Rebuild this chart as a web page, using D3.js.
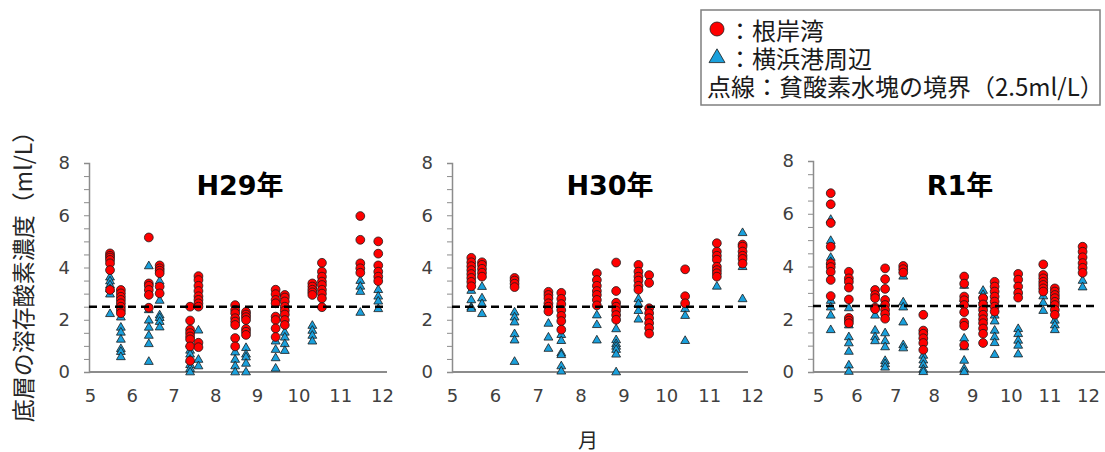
<!DOCTYPE html>
<html>
<head>
<meta charset="utf-8">
<script src="https://cdn.jsdelivr.net/npm/d3@7"></script>
<style>
  body { margin: 0; background: #fff; }
  svg text { font-family: "DejaVu Sans", "Noto Sans CJK JP", sans-serif; }
</style>
</head>
<body>
<div id="chart"></div>
<script>
// DATA (months are fractional positions on the 5..12 axis)
const yTicks = [0, 2, 4, 6, 8];
const xTicks = [5, 6, 7, 8, 9, 10, 11, 12];
const threshold = 2.5;

const h29Months = [5.48, 5.74, 6.41, 6.67, 7.40, 7.60, 8.48, 8.74, 9.45, 9.67, 10.33, 10.56, 11.48, 11.91];
const h29Red = [
  [4.54, 4.45, 4.38, 4.29, 4.16, 3.9, 3.14],
  [3.14, 3.01, 2.88, 2.76, 2.63, 2.5, 2.37, 2.25],
  [5.15, 3.39, 3.3, 3.14, 2.95, 2.46],
  [4.08, 3.97, 3.88, 3.78, 3.27, 3.01],
  [2.5, 1.97, 1.62, 1.49, 1.36, 1.25, 0.98, 0.43],
  [3.67, 3.52, 3.3, 3.1, 2.9, 2.76, 2.63, 2.5, 1.12, 0.95],
  [2.56, 2.38, 2.25, 2.06, 1.93, 1.8, 1.3, 0.98],
  [2.3, 2.2, 2.1, 1.99, 1.65, 1.54, 1.42],
  [3.15, 2.98, 2.76, 2.63, 2.12, 1.99, 1.67, 1.34],
  [2.95, 2.85, 2.7, 2.5, 2.35, 2.2, 1.99, 1.8],
  [3.39, 3.27, 3.15, 3.05, 2.95],
  [4.18, 3.84, 3.65, 3.46, 3.33, 3.15, 3.0, 2.82, 2.48],
  [5.97, 5.06, 4.16, 3.97, 3.8],
  [5.0, 4.53, 4.08, 3.84, 3.65, 3.48]
];
const h29Blue = [
  [3.65, 3.5, 3.35, 3.2, 3.0, 2.25],
  [2.12, 1.73, 1.54, 1.27, 0.91, 0.8, 0.6],
  [4.08, 2.4, 2.0, 1.73, 1.42, 1.1, 0.42],
  [3.5, 2.76, 2.2, 2.1, 1.95, 1.74],
  [1.1, 0.85, 0.7, 0.5, 0.3, 0.15, 0.02],
  [1.62, 0.5, 0.25],
  [0.78, 0.5, 0.25, 0.02],
  [0.95, 0.7, 0.59, 0.35, 0.02],
  [1.2, 0.88, 0.56, 0.16],
  [1.54, 1.35, 1.1, 0.84],
  [1.8, 1.61, 1.42, 1.2],
  [],
  [3.52, 3.3, 3.1, 2.3],
  [3.17, 2.92, 2.73, 2.44]
];

const h30Months = [5.45, 5.70, 6.46, 7.25, 7.55, 8.38, 8.83, 9.35, 9.60, 10.44, 11.18, 11.78];
const h30Red = [
  [4.37, 4.2, 4.05, 3.9, 3.75, 3.6, 3.45, 3.28],
  [4.2, 4.1, 3.95, 3.8, 3.65],
  [3.6, 3.5, 3.38, 3.25],
  [3.07, 2.95, 2.82, 2.63, 2.5, 2.32],
  [3.03, 2.8, 2.6, 2.37, 2.15, 1.95, 1.62],
  [3.78, 3.52, 3.3, 3.1, 2.95, 2.76, 2.55],
  [4.19, 3.1, 2.65, 2.5, 2.35, 2.18, 2.0],
  [4.1, 3.84, 3.65, 3.5, 3.3, 3.15],
  [3.71, 3.41, 2.44, 2.25, 2.06, 1.87, 1.68, 1.47],
  [3.93, 2.9, 2.63],
  [4.93, 4.61, 4.45, 4.3, 4.03, 3.9, 3.78, 3.65],
  [4.88, 4.8, 4.61, 4.45, 4.33, 4.15]
];
const h30Blue = [
  [3.14, 2.78, 2.5, 2.45],
  [3.29, 2.85, 2.63, 2.25],
  [2.31, 2.12, 1.93, 1.48, 1.24, 0.42],
  [1.88, 1.35, 0.92],
  [1.45, 1.22, 0.75, 0.68, 0.25, 0.05],
  [2.2, 1.83, 1.24],
  [1.67, 1.25, 1.1, 1.0, 0.88, 0.7, 0.02],
  [2.82, 2.63, 2.37, 2.04],
  [],
  [2.44, 2.18, 1.22],
  [3.3],
  [5.35, 4.05, 2.82]
];

const r1Months = [5.33, 5.80, 6.48, 6.74, 7.21, 7.73, 8.79, 9.28, 9.58, 10.19, 10.84, 11.14, 11.86];
const r1Red = [
  [6.78, 6.36, 5.65, 4.75, 4.12, 3.98, 3.8, 3.49, 2.88],
  [3.8, 3.55, 3.42, 3.2, 2.75, 2.05, 1.95, 1.85],
  [3.11, 2.92, 2.8, 2.44, 2.38],
  [3.93, 3.52, 3.15, 2.73, 2.54, 2.36, 2.2, 2.02],
  [4.02, 3.9, 3.77],
  [2.17, 1.57, 1.45, 1.28, 1.1, 0.84],
  [3.62, 3.35, 2.86, 2.72, 2.54, 2.27, 1.88, 1.75, 1.02],
  [2.8, 2.56, 2.35, 2.17, 2.0, 1.85, 1.65, 1.45, 1.1],
  [3.42, 3.24, 3.05, 2.86, 2.67, 2.48, 2.29],
  [3.72, 3.5, 3.24, 3.0, 2.82],
  [4.08, 3.68, 3.55, 3.42, 3.3, 3.17, 3.05],
  [3.17, 3.05, 2.92, 2.8, 2.66, 2.54, 2.36, 2.17],
  [4.75, 4.56, 4.35, 4.13, 3.95, 3.76]
];
const r1Blue = [
  [5.8, 5.0, 4.36, 4.2, 2.73, 2.48, 2.17, 1.62],
  [2.45, 1.8, 1.35, 1.12, 0.8, 0.28, 0.04],
  [2.17, 1.6, 1.35, 1.2],
  [1.5, 1.2, 0.97, 0.45, 0.33, 0.2],
  [3.65, 2.67, 2.48, 1.91, 1.05, 0.93],
  [0.65, 0.47, 0.3, 0.12, 0.03],
  [3.3, 2.8, 1.3, 0.97, 0.46, 0.15, 0.03],
  [3.11, 2.95, 2.75, 2.55],
  [2.17, 1.95, 1.6, 1.35, 1.13, 0.68],
  [1.66, 1.47, 1.22, 1.03, 0.7],
  [2.9, 2.65, 2.35],
  [1.98, 1.8, 1.62],
  [3.49, 3.24]
];

const titles = ["H29年", "H30年", "R1年"];
const legendLabels = ["：根岸湾", "：横浜港周辺", "点線：貧酸素水塊の境界（2.5ml/L）"];
const yLabel = "底層の溶存酸素濃度（ml/L）";
const xLabel = "月";

// LAYOUT
const W = 1105, H = 452;
const RED = "#ff0000", BLUE = "#1aa0dc", AXIS = "#8c8c8c", TICK_TXT = "#404040";

const panels = [
  { title: titles[0], months: h29Months, red: h29Red, blue: h29Blue,
    axisX: 89, xRange: [90, 382], yRange: [372, 163], axisEnd: 387, dashEnd: 387, titleX: 240 },
  { title: titles[1], months: h30Months, red: h30Red, blue: h30Blue,
    axisX: 452, xRange: [452, 752], yRange: [372, 163], axisEnd: 748, dashEnd: 746, titleX: 610 },
  { title: titles[2], months: r1Months, red: r1Red, blue: r1Blue,
    axisX: 813, xRange: [818, 1088], yRange: [372, 161], axisEnd: 1105, dashEnd: 1096, titleX: 960 }
];

const svg = d3.select("#chart").append("svg")
    .attr("width", W)
    .attr("height", H);

const tri = d3.symbol().type(d3.symbolTriangle).size(34);

panels.forEach(p => {
  const x = d3.scaleLinear().domain([5, 12]).range(p.xRange);
  const y = d3.scaleLinear().domain([0, 8]).range(p.yRange);
  const g = svg.append("g");

  // y axis with minor ticks every 0.5
  const yAxis = g.append("g")
      .attr("transform", `translate(${p.axisX},0)`)
      .call(d3.axisLeft(y)
          .tickValues(d3.range(0, 8.01, 0.5))
          .tickSize(5)
          .tickPadding(14)
          .tickFormat(d => yTicks.includes(d) ? d : ""));
  yAxis.select(".domain").attr("stroke", AXIS).attr("stroke-width", 1.5);
  yAxis.selectAll(".tick line").attr("stroke", AXIS).attr("stroke-width", 1);
  yAxis.selectAll("text")
      .attr("fill", TICK_TXT)
      .style("font-size", "18px");

  // x axis (labels only) and base line
  const xAxis = g.append("g")
      .attr("transform", `translate(0,${p.yRange[0]})`)
      .call(d3.axisBottom(x)
          .tickValues(xTicks)
          .tickSize(0)
          .tickPadding(17)
          .tickFormat(d3.format("d")));
  xAxis.select(".domain").remove();
  xAxis.selectAll("text")
      .attr("fill", TICK_TXT)
      .style("font-size", "18px");

  g.append("line")
      .attr("x1", p.axisX).attr("x2", p.axisEnd)
      .attr("y1", y(0)).attr("y2", y(0))
      .attr("stroke", AXIS).attr("stroke-width", 2);

  // title
  g.append("text")
      .attr("x", p.titleX)
      .attr("y", 195)
      .attr("text-anchor", "middle")
      .style("font-size", "27px")
      .style("font-weight", "bold")
      .text(p.title);

  // points: blue first, red on top
  const bluePts = [], redPts = [];
  p.months.forEach((m, i) => {
    p.blue[i].forEach(v => bluePts.push([m, v]));
    p.red[i].forEach(v => redPts.push([m, v]));
  });

  g.selectAll(".tri")
      .data(bluePts)
      .enter()
      .append("path")
      .attr("d", tri)
      .attr("transform", d => `translate(${x(d[0])},${y(d[1]) + 0.8})`)
      .attr("fill", BLUE)
      .attr("stroke", "#1a1a1a")
      .attr("stroke-width", 0.8);

  g.selectAll(".dot")
      .data(redPts)
      .enter()
      .append("circle")
      .attr("cx", d => x(d[0]))
      .attr("cy", d => y(d[1]))
      .attr("r", 4.4)
      .attr("fill", RED)
      .attr("stroke", "#1a1a1a")
      .attr("stroke-width", 0.8);

  // 2.5 ml/L threshold
  g.append("line")
      .attr("x1", p.axisX).attr("x2", p.dashEnd)
      .attr("y1", y(threshold)).attr("y2", y(threshold))
      .attr("stroke", "#000")
      .attr("stroke-width", 2.6)
      .attr("stroke-dasharray", "8,5");
});

// axis titles
svg.append("text")
    .attr("transform", "translate(22,271) rotate(-90)")
    .attr("text-anchor", "middle")
    .attr("dominant-baseline", "central")
    .style("font-family", "'Noto Sans CJK JP', sans-serif")
    .style("font-size", "23px")
    .attr("fill", "#262626")
    .text(yLabel);

svg.append("text")
    .attr("x", 588)
    .attr("y", 439)
    .attr("text-anchor", "middle")
    .attr("dominant-baseline", "central")
    .style("font-family", "'Noto Sans CJK JP', sans-serif")
    .style("font-size", "20px")
    .attr("fill", "#262626")
    .text(xLabel);

// legend
const legend = svg.append("g");
legend.append("rect")
    .attr("x", 701).attr("y", 10)
    .attr("width", 399).attr("height", 95)
    .attr("fill", "#fff")
    .attr("stroke", "#7f7f7f")
    .attr("stroke-width", 1.5);

legend.append("circle")
    .attr("cx", 717).attr("cy", 29).attr("r", 7)
    .attr("fill", RED).attr("stroke", "#1a1a1a").attr("stroke-width", 0.8);

legend.append("path")
    .attr("d", d3.symbol().type(d3.symbolTriangle).size(110))
    .attr("transform", "translate(717,58)")
    .attr("fill", BLUE).attr("stroke", "#1a1a1a").attr("stroke-width", 0.8);

legend.selectAll(".lt")
    .data(legendLabels)
    .enter()
    .append("text")
    .attr("x", (d, i) => i < 2 ? 728 : 707)
    .attr("y", (d, i) => 29 + i * 28)
    .attr("dominant-baseline", "central")
    .style("font-family", "'Noto Sans CJK JP', sans-serif")
    .style("font-size", "24px")
    .attr("fill", "#1a1a1a")
    .text(d => d);
</script>
</body>
</html>
